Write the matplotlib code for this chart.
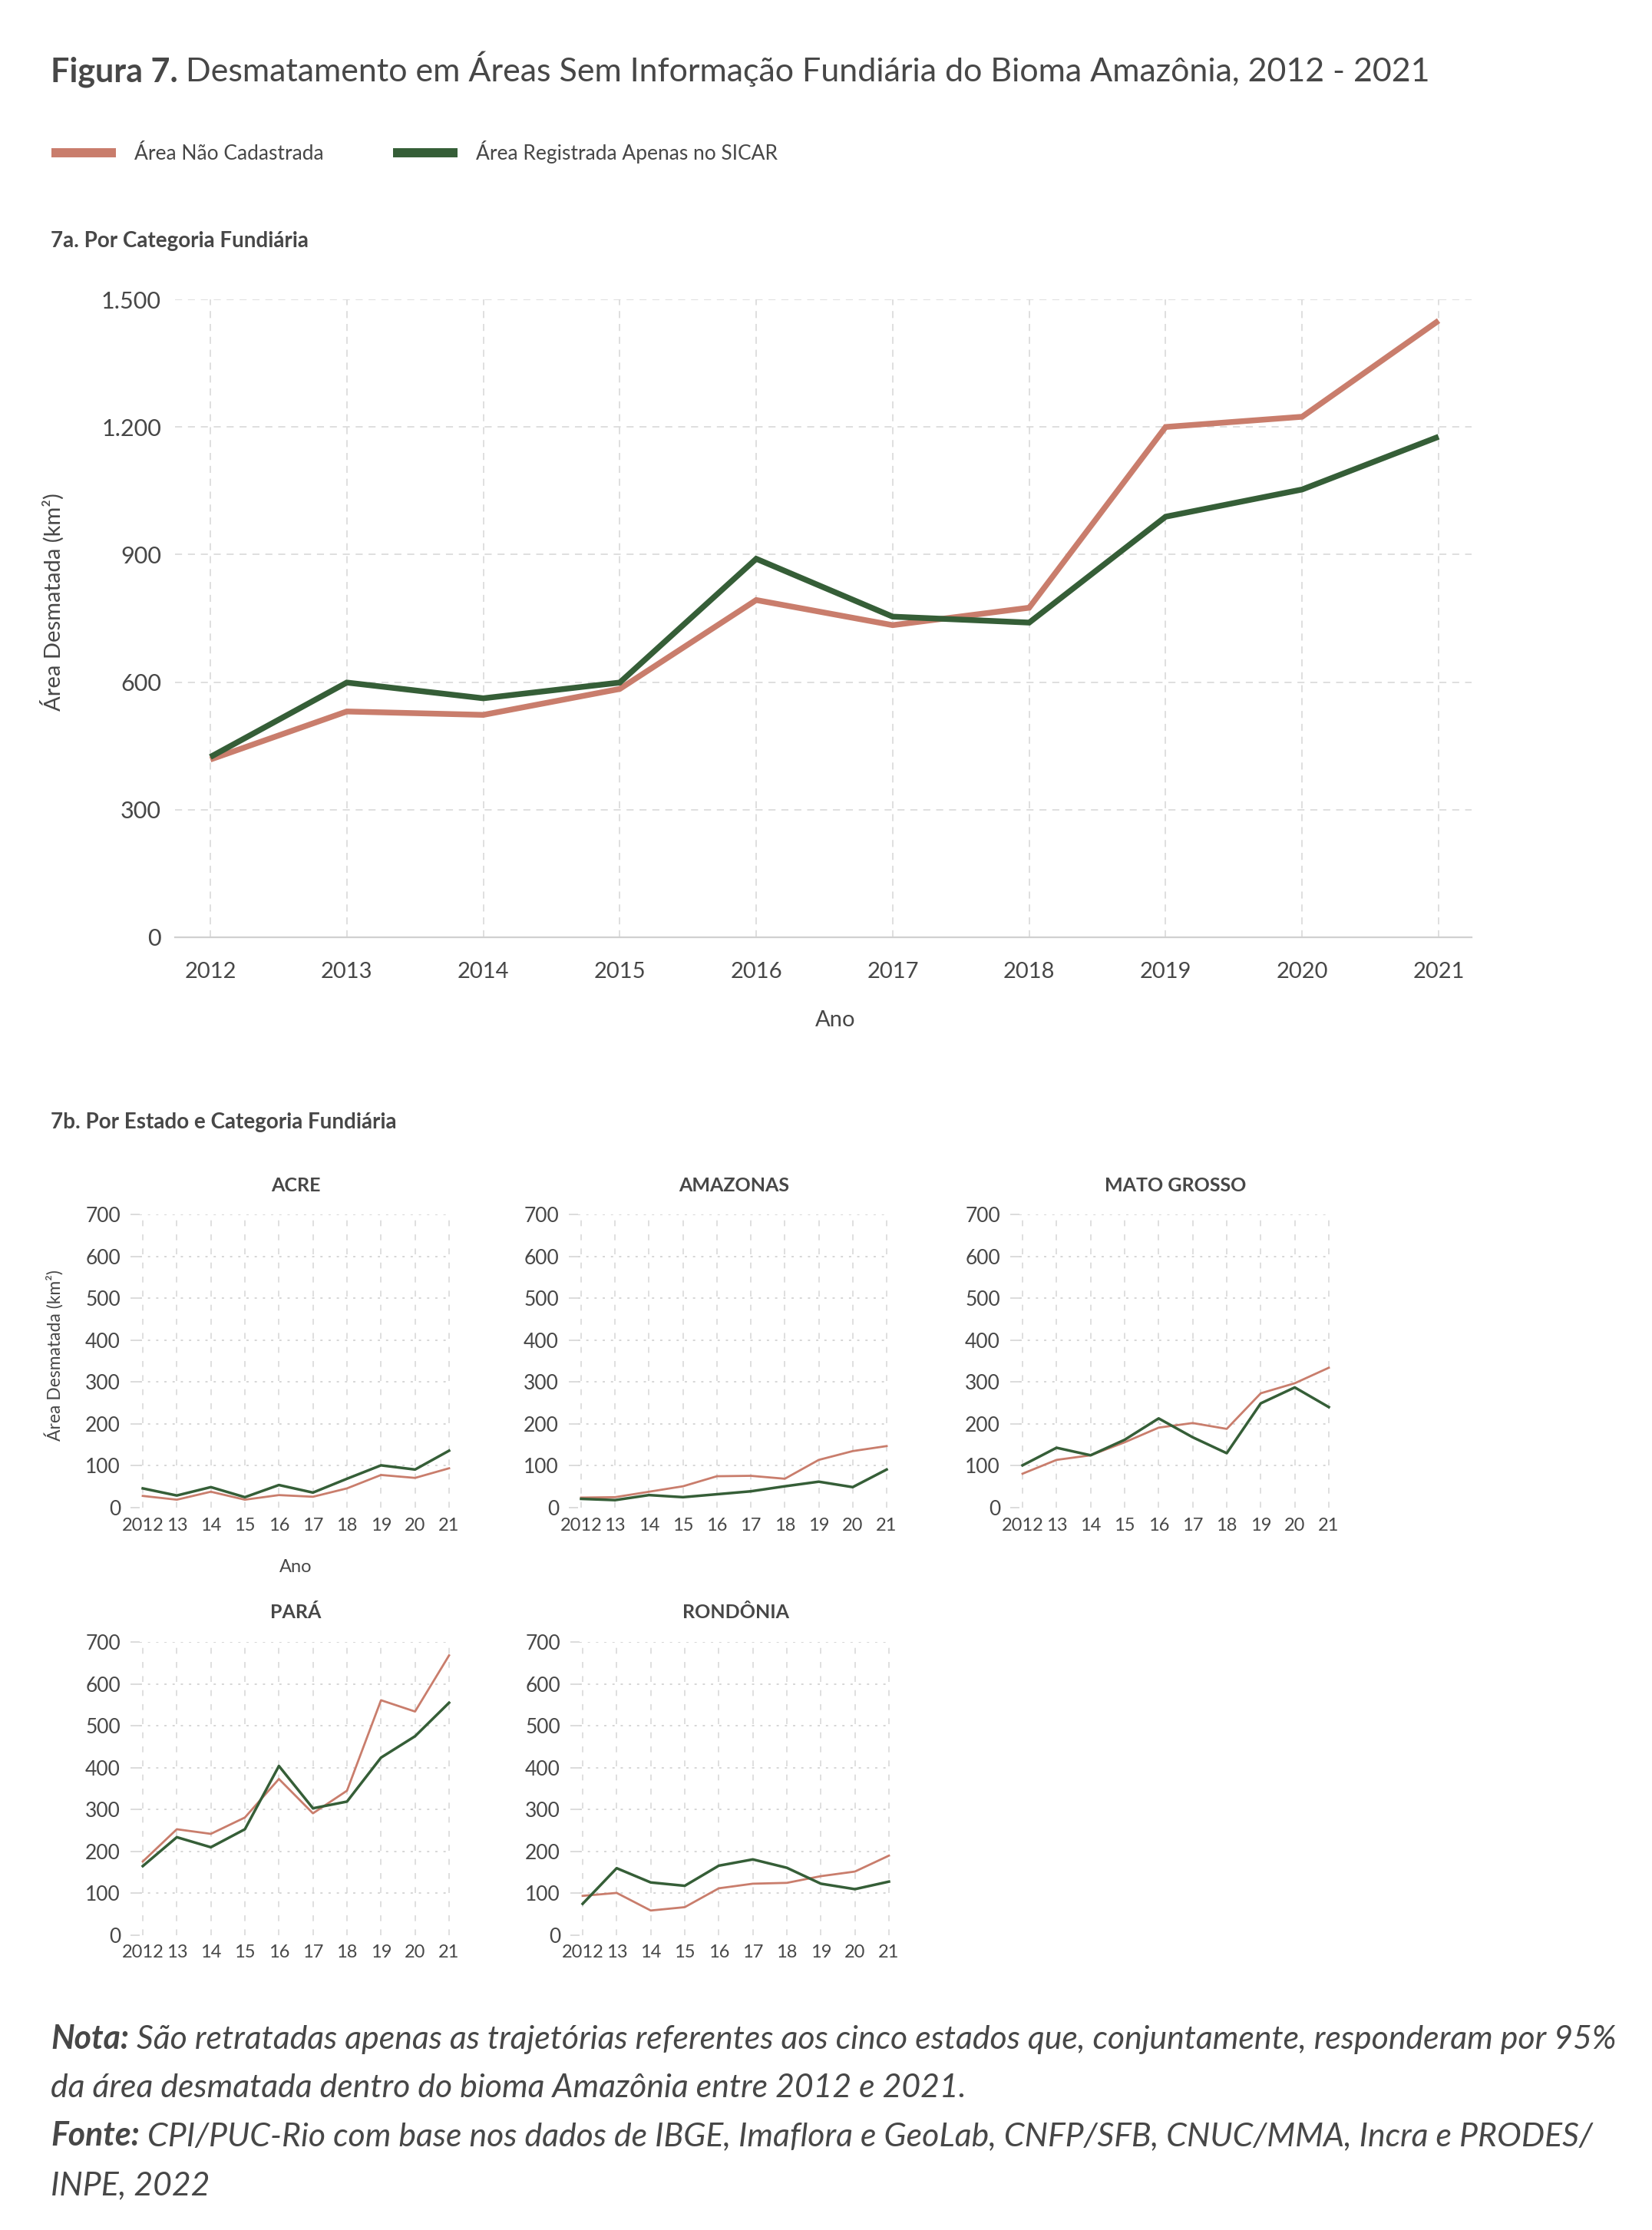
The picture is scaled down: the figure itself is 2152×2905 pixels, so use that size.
import matplotlib
matplotlib.use('Agg')
import matplotlib.pyplot as plt
from matplotlib.lines import Line2D

# ---------------- data ----------------
years = [2012, 2013, 2014, 2015, 2016, 2017, 2018, 2019, 2020, 2021]

total_nao_cadastrada = [418, 531, 523, 584, 793, 734, 775, 1200, 1224, 1450]
total_sicar = [424, 599, 562, 599, 890, 754, 740, 989, 1053, 1177]

states = ['ACRE', 'AMAZONAS', 'MATO GROSSO', 'PARÁ', 'RONDÔNIA']
acre_nao = [28, 19, 38, 19, 30, 26, 46, 78, 71, 94]
acre_sicar = [46, 29, 49, 25, 54, 36, 69, 101, 91, 136]
amazonas_nao = [24, 25, 38, 51, 75, 76, 69, 114, 135, 147]
amazonas_sicar = [21, 18, 30, 25, 32, 39, 51, 62, 49, 91]
mt_nao = [81, 114, 125, 156, 191, 202, 188, 273, 297, 334]
mt_sicar = [101, 143, 125, 162, 213, 168, 130, 249, 287, 240]
para_nao = [176, 253, 242, 281, 373, 291, 345, 561, 534, 668]
para_sicar = [165, 234, 210, 253, 404, 303, 319, 424, 475, 555]
ro_nao = [94, 101, 59, 67, 112, 123, 125, 141, 152, 190]
ro_sicar = [75, 160, 126, 118, 166, 181, 161, 123, 110, 128]

main_yticks = [0, 300, 600, 900, 1200, 1500]
main_ytick_labels = ['0', '300', '600', '900', '1.200', '1.500']
main_xtick_labels = [str(y) for y in years]
small_yticks = [0, 100, 200, 300, 400, 500, 600, 700]
small_xtick_labels = ['2012', '13', '14', '15', '16', '17', '18', '19', '20', '21']

series_labels = ['Área Não Cadastrada', 'Área Registrada Apenas no SICAR']

# ---------------- style ----------------
PINK = '#C97D6C'
GREEN = '#355E37'
TXT = '#474747'
GRID = '#d6d6d6'
plt.rcParams['font.family'] = ['Lato', 'DejaVu Sans']
plt.rcParams['text.color'] = TXT

W, H = 2152, 2905
DPI = 100
fig = plt.figure(figsize=(W / DPI, H / DPI), dpi=DPI)
fig.patch.set_facecolor('white')


def px_axes(x0, y0, x1, y1):
    return fig.add_axes([x0 / W, 1 - y1 / H, (x1 - x0) / W, (y1 - y0) / H])


def ftext(x, y, s, **kw):
    return fig.text(x / W, 1 - y / H, s, **kw)


renderer = fig.canvas.get_renderer()


def mixed_line(x, y_base, parts):
    """parts: list of (text, kwargs); drawn consecutively on one baseline."""
    cx = x
    for s, kw in parts:
        t = ftext(cx, y_base, s, va='baseline', ha='left', color=TXT, **kw)
        bb = t.get_window_extent(renderer=renderer)
        cx += bb.width


# ---------------- header ----------------
mixed_line(66, 106, [('Figura 7. ', dict(fontsize=31, fontweight='bold')),
                     ('Desmatamento em Áreas Sem Informação Fundiária do Bioma Amazônia, 2012 - 2021',
                      dict(fontsize=31))])

handles = [Line2D([], [], color=PINK, lw=8.6, solid_capstyle='butt'),
           Line2D([], [], color=GREEN, lw=8.6, solid_capstyle='butt')]
fig.legend(handles, series_labels, loc='center left',
           bbox_to_anchor=(67 / W, 1 - 198 / H), ncol=2, frameon=False,
           fontsize=19, handlelength=3.2, handletextpad=0.9, columnspacing=3.4,
           borderpad=0, borderaxespad=0, labelcolor=TXT)

ftext(66, 322, '7a. Por Categoria Fundiária', fontsize=20, fontweight='bold',
      va='baseline', ha='left')

# ---------------- main chart ----------------
mx2012, mx2021 = 274, 1874
msp = (mx2021 - mx2012) / 9
mleft, mright = 228, 1917
ax = px_axes(mleft, 390, mright, 1221)
ax.set_xlim(years[0] - (mx2012 - mleft) / msp, years[-1] + (mright - mx2021) / msp)
ax.set_ylim(0, 1500)
ax.plot(years, total_nao_cadastrada, color=PINK, lw=5.4, solid_capstyle='butt',
        solid_joinstyle='miter', clip_on=False, zorder=3)
ax.plot(years, total_sicar, color=GREEN, lw=5.4, solid_capstyle='butt',
        solid_joinstyle='miter', clip_on=False, zorder=4)
ax.set_yticks(main_yticks)
ax.set_yticklabels(main_ytick_labels)
ax.set_xticks(years)
ax.set_xticklabels(main_xtick_labels)
ax.tick_params(axis='both', length=0, labelcolor=TXT)
ax.tick_params(axis='y', labelsize=22, pad=13)
ax.tick_params(axis='x', labelsize=21, pad=23)
for s in ['top', 'right', 'left']:
    ax.spines[s].set_visible(False)
ax.spines['bottom'].set_color('#d0d0d0')
ax.spines['bottom'].set_linewidth(1.6)
ax.grid(True, color=GRID, lw=1.1, linestyle=(0, (6, 5)))
ax.get_ygridlines()[0].set_visible(False)
ax.set_axisbelow(True)
ax.set_ylabel('Área Desmatada (km²)', fontsize=21, color=TXT)
ax.yaxis.set_label_coords((84 - mleft) / (mright - mleft), (1221 - 784) / (1221 - 390))
ax.set_xlabel('Ano', fontsize=21, color=TXT)
ax.xaxis.set_label_coords((1088 - mleft) / (mright - mleft), -(1316 - 1221) / (1221 - 390))

# ---------------- small multiples ----------------
ftext(66, 1470, '7b. Por Estado e Categoria Fundiária', fontsize=20, fontweight='bold',
      va='baseline', ha='left')

panels = [
    (states[0], acre_nao, acre_sicar, 186, 585, 1582, 1964),
    (states[1], amazonas_nao, amazonas_sicar, 757, 1155, 1582, 1964),
    (states[2], mt_nao, mt_sicar, 1332, 1731, 1582, 1964),
    (states[3], para_nao, para_sicar, 186, 585, 2139, 2521),
    (states[4], ro_nao, ro_sicar, 759, 1158, 2139, 2521),
]

for i, (name, nao, sicar, x12, x21, ytop, ybot) in enumerate(panels):
    sp = (x21 - x12) / 9
    left = x12 - 0.09 * sp
    right = x21 + 0.06 * sp
    a = px_axes(left, ytop, right, ybot)
    a.set_xlim(years[0] - 0.09, years[-1] + 0.06)
    a.set_ylim(0, 700)
    a.plot(years, nao, color=PINK, lw=2.0, clip_on=False, zorder=3)
    a.plot(years, sicar, color=GREEN, lw=2.5, clip_on=False, zorder=4)
    a.set_yticks(small_yticks)
    a.set_xticks(years)
    a.set_xticklabels(small_xtick_labels)
    for s in a.spines.values():
        s.set_visible(False)
    a.tick_params(axis='y', length=9, width=1.2, color=GRID, labelsize=19, pad=9,
                  labelcolor=TXT)
    a.tick_params(axis='x', length=0, labelsize=17, pad=9, labelcolor=TXT)
    a.xaxis.grid(True, color=GRID, lw=1.1, linestyle=(0, (5, 7)))
    a.yaxis.grid(True, color=GRID, lw=1.4, linestyle=(0, (1.5, 4)))
    a.get_ygridlines()[0].set_visible(False)
    a.set_axisbelow(True)
    ftext((x12 + x21) / 2, ytop - 38, name, fontsize=18, fontweight='bold',
          ha='center', va='center')
    if i == 0:
        a.set_ylabel('Área Desmatada (km²)', fontsize=16.5, color=TXT)
        a.yaxis.set_label_coords((83 - left) / (right - left), (ybot - 1766) / (ybot - ytop))
        a.set_xlabel('Ano', fontsize=17, color=TXT)
        a.xaxis.set_label_coords(((x12 + x21) / 2 - left) / (right - left),
                                 -(2031 - ybot) / (ybot - ytop))

# ---------------- footnote ----------------
FS = 30.8
mixed_line(66, 2669, [('Nota:', dict(fontsize=FS, fontweight='bold', fontstyle='italic')),
                      (' São retratadas apenas as trajetórias referentes aos cinco estados que, conjuntamente, responderam por 95%',
                       dict(fontsize=FS, fontstyle='italic'))])
mixed_line(66, 2732, [('da área desmatada dentro do bioma Amazônia entre 2012 e 2021.',
                       dict(fontsize=FS, fontstyle='italic'))])
mixed_line(66, 2795, [('Fonte:', dict(fontsize=FS, fontweight='bold', fontstyle='italic')),
                      (' CPI/PUC-Rio com base nos dados de IBGE, Imaflora e GeoLab, CNFP/SFB, CNUC/MMA, Incra e PRODES/',
                       dict(fontsize=FS, fontstyle='italic'))])
mixed_line(66, 2859, [('INPE, 2022', dict(fontsize=FS, fontstyle='italic'))])

fig.savefig('out.png', dpi=DPI, facecolor='white')
